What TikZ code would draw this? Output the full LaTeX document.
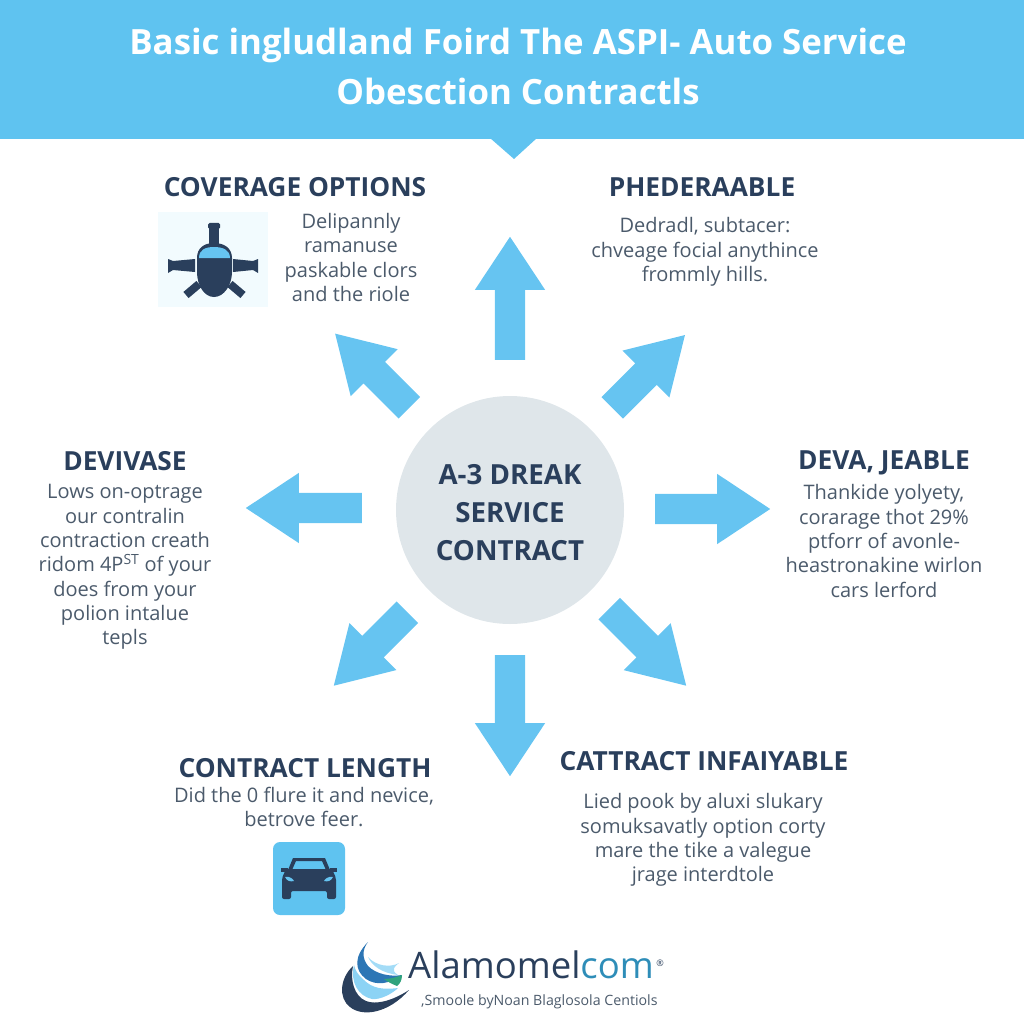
\documentclass[tikz,border=0pt]{standalone}
\usepackage{xcolor}
\usepackage{fontspec}
\setmainfont{Open Sans}
\usetikzlibrary{shapes,arrows,positioning,calc}
\definecolor{skyblue}{HTML}{5FC3F0}
\definecolor{arrowblue}{HTML}{66C4F1}
\definecolor{navy}{HTML}{2A3F5C}
\definecolor{bodygray}{HTML}{4B5A6B}
\definecolor{hubgray}{HTML}{DFE6EA}
\definecolor{logoblue}{HTML}{2C76B5}
\definecolor{logoteal}{HTML}{2E8DB8}
\definecolor{logogreen}{HTML}{2FA37C}
\tikzset{
  bigarrow/.style={single arrow,anchor=tail,fill=arrowblue,draw=none,inner sep=0pt,minimum width=70pt,single arrow head extend=20pt,single arrow tip angle=67,execute at begin node={\rule{0pt}{30pt}}},
  slantarrow/.style={bigarrow,minimum width=66pt,single arrow head extend=18pt,single arrow tip angle=62},
  headline/.style={font=\fontsize{26.3}{26}\selectfont\bfseries,text=navy,inner sep=0pt},
  bodytext/.style={font=\fontsize{20}{24.3}\selectfont,text=bodygray,align=center,inner sep=0pt},
}
\begin{document}
\begin{tikzpicture}[x=1pt,y=-1pt]
  \useasboundingbox (0,0) rectangle (1024,1024);
  \fill[skyblue] (0,0) rectangle (1024,139);
  \fill[skyblue] (490,138) -- (537,138) -- (514,159) -- cycle;
  \node[font=\fontsize{34.8}{50}\selectfont\bfseries,text=white,align=center,inner sep=0pt] (title) at (518,66) {Basic ingludland Foird The ASPI- Auto Service\\Obesction Contractls};

  \node[circle,fill=hubgray,minimum size=228pt,inner sep=0pt] (hub) at (510,510) {};
  \node[font=\fontsize{27.7}{38}\selectfont\bfseries,text=navy,align=center,inner sep=0pt] (hubtext) at (510,513) {A-3 DREAK\\SERVICE\\CONTRACT};

  \node[bigarrow,minimum height=123pt,rotate=90] (arrowup) at (510,360) {};
  \node[bigarrow,minimum height=115pt] (arrowright) at (655,509) {};
  \node[bigarrow,minimum height=116pt,rotate=180] (arrowleft) at (362,508) {};
  \node[bigarrow,minimum height=121pt,rotate=-90] (arrowdown) at (510,655) {};
  \node[slantarrow,minimum height=105pt,rotate=135] (arrownw) at (409.5,408) {};
  \node[slantarrow,minimum height=103pt,rotate=45] (arrowne) at (612,408) {};
  \node[slantarrow,minimum height=104pt,rotate=225] (arrowsw) at (407.5,612) {};
  \node[slantarrow,minimum height=109pt,rotate=-45] (arrowse) at (609,608.5) {};

  \node[headline] (coverage) at (295,187) {COVERAGE OPTIONS};
  \node[bodytext] (coveragetext) at (351,257.5) {Delipannly\\ramanuse\\paskable clors\\and the riole};
  \node[headline] (pheder) at (702,187) {PHEDERAABLE};
  \node[bodytext] (phedertext) at (705,252) {Dedradl, subtacer:\\chveage focial anythince\\frommly hills.};
  \node[headline] (devivase) at (125,461) {DEVIVASE};
  \node[bodytext] (devivasetext) at (125,567) {Lows on-optrage\\our contralin\\contraction creath\\ridom 4P\textsuperscript{ST} of your\\does from your\\polion intalue\\tepls};
  \node[headline] (deva) at (884,463) {DEVA, JEABLE};
  \node[bodytext] (devatext) at (884,541) {Thankide yolyety,\\corarage thot 29\%\\ptforr of avonle-\\heastronakine wirlon\\cars lerford};
  \node[headline] (length) at (305,768) {CONTRACT LENGTH};
  \node[bodytext] (lengthtext) at (304,807) {Did the 0 flure it and nevice,\\betrove feer.};
  \node[headline] (cattract) at (704,761) {CATTRACT INFAIYABLE};
  \node[bodytext] (cattracttext) at (703,840) {Lied pook by aluxi slukary\\somuksavatly option corty\\mare the tike a valegue\\jrage interdtole};

  % pod icon
  \fill[cyan!5] (158,212) rectangle (268,307);
  \fill[navy,rounded corners=1.5pt] (208,223) rectangle (220,229);
  \fill[navy] (209,226) rectangle (219,246);
  \fill[navy] (197,258) .. controls (197,248) and (204,243) .. (214,243) .. controls (224,243) and (232,248) .. (232,258) -- (232,272) .. controls (232,285) and (224,297) .. (214,297) .. controls (204,297) and (197,285) .. (197,272) -- cycle;
  \fill[arrowblue] (199,258) .. controls (199,250) and (205,247) .. (214,247) .. controls (223,247) and (230,250) .. (230,258) -- cycle;
  \fill[navy] (168,259) -- (173,261) -- (195,259) -- (195,272) -- (173,270) -- (168,273) -- cycle;
  \fill[navy] (258,259) -- (253,261) -- (233,259) -- (233,272) -- (253,270) -- (258,273) -- cycle;
  \draw[navy,line width=8pt] (199,284) -- (186,295);
  \draw[navy,line width=8pt] (230,284) -- (243,295);

  % car icon
  \fill[skyblue,rounded corners=7pt] (273,842) rectangle (345,915);
  \fill[navy] (288,870) -- (293,858) -- (325,858) -- (330,870) -- (326,870) -- (322,861) -- (296,861) -- (292,870) -- cycle;
  \fill[navy,rounded corners=2pt] (282,899) -- (282,878) -- (286,869) -- (332,869) -- (336,878) -- (336,899) -- (327,899) -- (327,891) -- (291,891) -- (291,899) -- cycle;
  \fill[navy] (281,868) rectangle (288,872);
  \fill[navy] (330,868) rectangle (337,872);
  \fill[arrowblue] (285,877) .. controls (290,876) and (293,879) .. (294,881) .. controls (290,882) and (287,881) .. (285,877) -- cycle;
  \fill[arrowblue] (333,877) .. controls (328,876) and (325,879) .. (324,881) .. controls (328,882) and (331,881) .. (333,877) -- cycle;

  % logo
  \fill[navy] (353,966) .. controls (340,978) and (338,998) .. (350,1007) .. controls (362,1017) and (388,1014) .. (409,990) .. controls (392,1001) and (376,1005) .. (366,1001) .. controls (354,996) and (350,980) .. (353,966) -- cycle;
  \fill[arrowblue!75] (354,965) .. controls (350,982) and (358,996) .. (372,999) .. controls (380,1000) and (392,994) .. (398,988) .. controls (382,990) and (372,988) .. (364,980) .. controls (358,975) and (355,970) .. (354,965) -- cycle;
  \fill[logoblue] (368,942) .. controls (354,956) and (354,970) .. (366,979) .. controls (376,986) and (390,984) .. (402,975) .. controls (390,977) and (376,974) .. (368,966) .. controls (362,958) and (362,950) .. (368,942) -- cycle;
  \fill[arrowblue!60] (368,957) .. controls (372,966) and (382,973) .. (398,975) .. controls (390,970) and (395,966) .. (399,963) .. controls (390,968) and (376,966) .. (368,957) -- cycle;
  \fill[logogreen] (384,979) .. controls (390,979) and (397,977) .. (402,975) .. controls (402,980) and (400,984) .. (397,986) .. controls (392,984) and (388,982) .. (384,979) -- cycle;
  \node[font=\fontsize{36.5}{37}\selectfont,inner sep=0pt,anchor=base west] (logoname) at (408,978) {\textcolor{navy}{Alamomel}\textcolor{logoteal}{com}};
  \node[font=\fontsize{9}{9}\selectfont,text=navy,inner sep=0pt] (logomark) at (660,963) {®};
  \node[font=\fontsize{14.2}{15}\selectfont,text=bodygray,inner sep=0pt,anchor=base west] (tagline) at (421,1005) {,Smoole byNoan Blaglosola Centiols};
\end{tikzpicture}
\end{document}
